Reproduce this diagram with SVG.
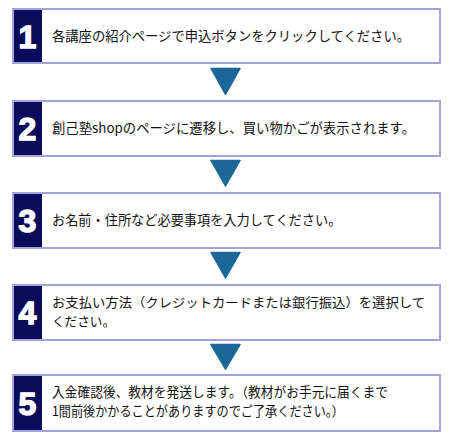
<svg xmlns="http://www.w3.org/2000/svg" width="450" height="445" viewBox="0 0 450 445">
<style>
.box{fill:#ffffff;stroke:#a3a3d9;stroke-width:2}
.num{fill:#0b0b5c}
.n{font-family:"Liberation Sans",Arial,sans-serif;font-weight:bold;font-size:32px;fill:#ffffff;stroke:#ffffff;stroke-width:1.4;text-anchor:middle}
.t{font-family:"Noto Sans CJK JP","Liberation Sans",sans-serif;font-size:13.2px;fill:#111111}
.s{font-size:12.6px}
.arr{fill:#1b6797;stroke:#1b6797;stroke-width:1.5;stroke-linejoin:round}
</style>
<rect width="450" height="445" fill="#ffffff"/>
<g id="connectors">
<polygon class="arr" points="211,68.5 240,68.5 225.5,94.5"/>
<polygon class="arr" points="211,160.5 240,160.5 225.5,186"/>
<polygon class="arr" points="211,252.5 240,252.5 225.5,278"/>
<polygon class="arr" points="211,344.5 240,344.5 225.5,369"/>
</g>
<g id="step1">
<rect class="box" x="13" y="9" width="427" height="54"/>
<rect class="num" x="14" y="10" width="28" height="52"/>
<text class="n" x="27.5" y="47.5">1</text>
<text class="t" x="52" y="41" textLength="358" lengthAdjust="spacingAndGlyphs">各講座の紹介ページで申込ボタンをクリックしてください。</text>
</g>
<g id="step2">
<rect class="box" x="13" y="101" width="427" height="55"/>
<rect class="num" x="14" y="102" width="28" height="53"/>
<text class="n" x="27.5" y="139.5">2</text>
<text class="t" x="52" y="133" textLength="363" lengthAdjust="spacingAndGlyphs">創己塾shopのページに遷移し、買い物かごが表示されます。</text>
</g>
<g id="step3">
<rect class="box" x="13" y="193" width="427" height="55"/>
<rect class="num" x="14" y="194" width="28" height="53"/>
<text class="n" x="27.5" y="231.5">3</text>
<text class="t" x="52" y="225">お名前・住所など必要事項を入力してください。</text>
</g>
<g id="step4">
<rect class="box" x="13" y="285" width="427" height="55"/>
<rect class="num" x="14" y="286" width="28" height="53"/>
<text class="n" x="27.5" y="323.5">4</text>
<text class="t s" x="52" y="307" textLength="373" lengthAdjust="spacingAndGlyphs">お支払い方法（クレジットカードまたは銀行振込）を選択して</text>
<text class="t s" x="52" y="325.5">ください。</text>
</g>
<g id="step5">
<rect class="box" x="13" y="375" width="427" height="56"/>
<rect class="num" x="14" y="376" width="28" height="54"/>
<text class="n" x="27.5" y="414.5">5</text>
<text class="t" x="52" y="397" textLength="336" lengthAdjust="spacingAndGlyphs">入金確認後、教材を発送します。（教材がお手元に届くまで</text>
<text class="t" x="52" y="416" textLength="292" lengthAdjust="spacingAndGlyphs">1間前後かかることがありますのでご了承ください。）</text>
</g>
</svg>
